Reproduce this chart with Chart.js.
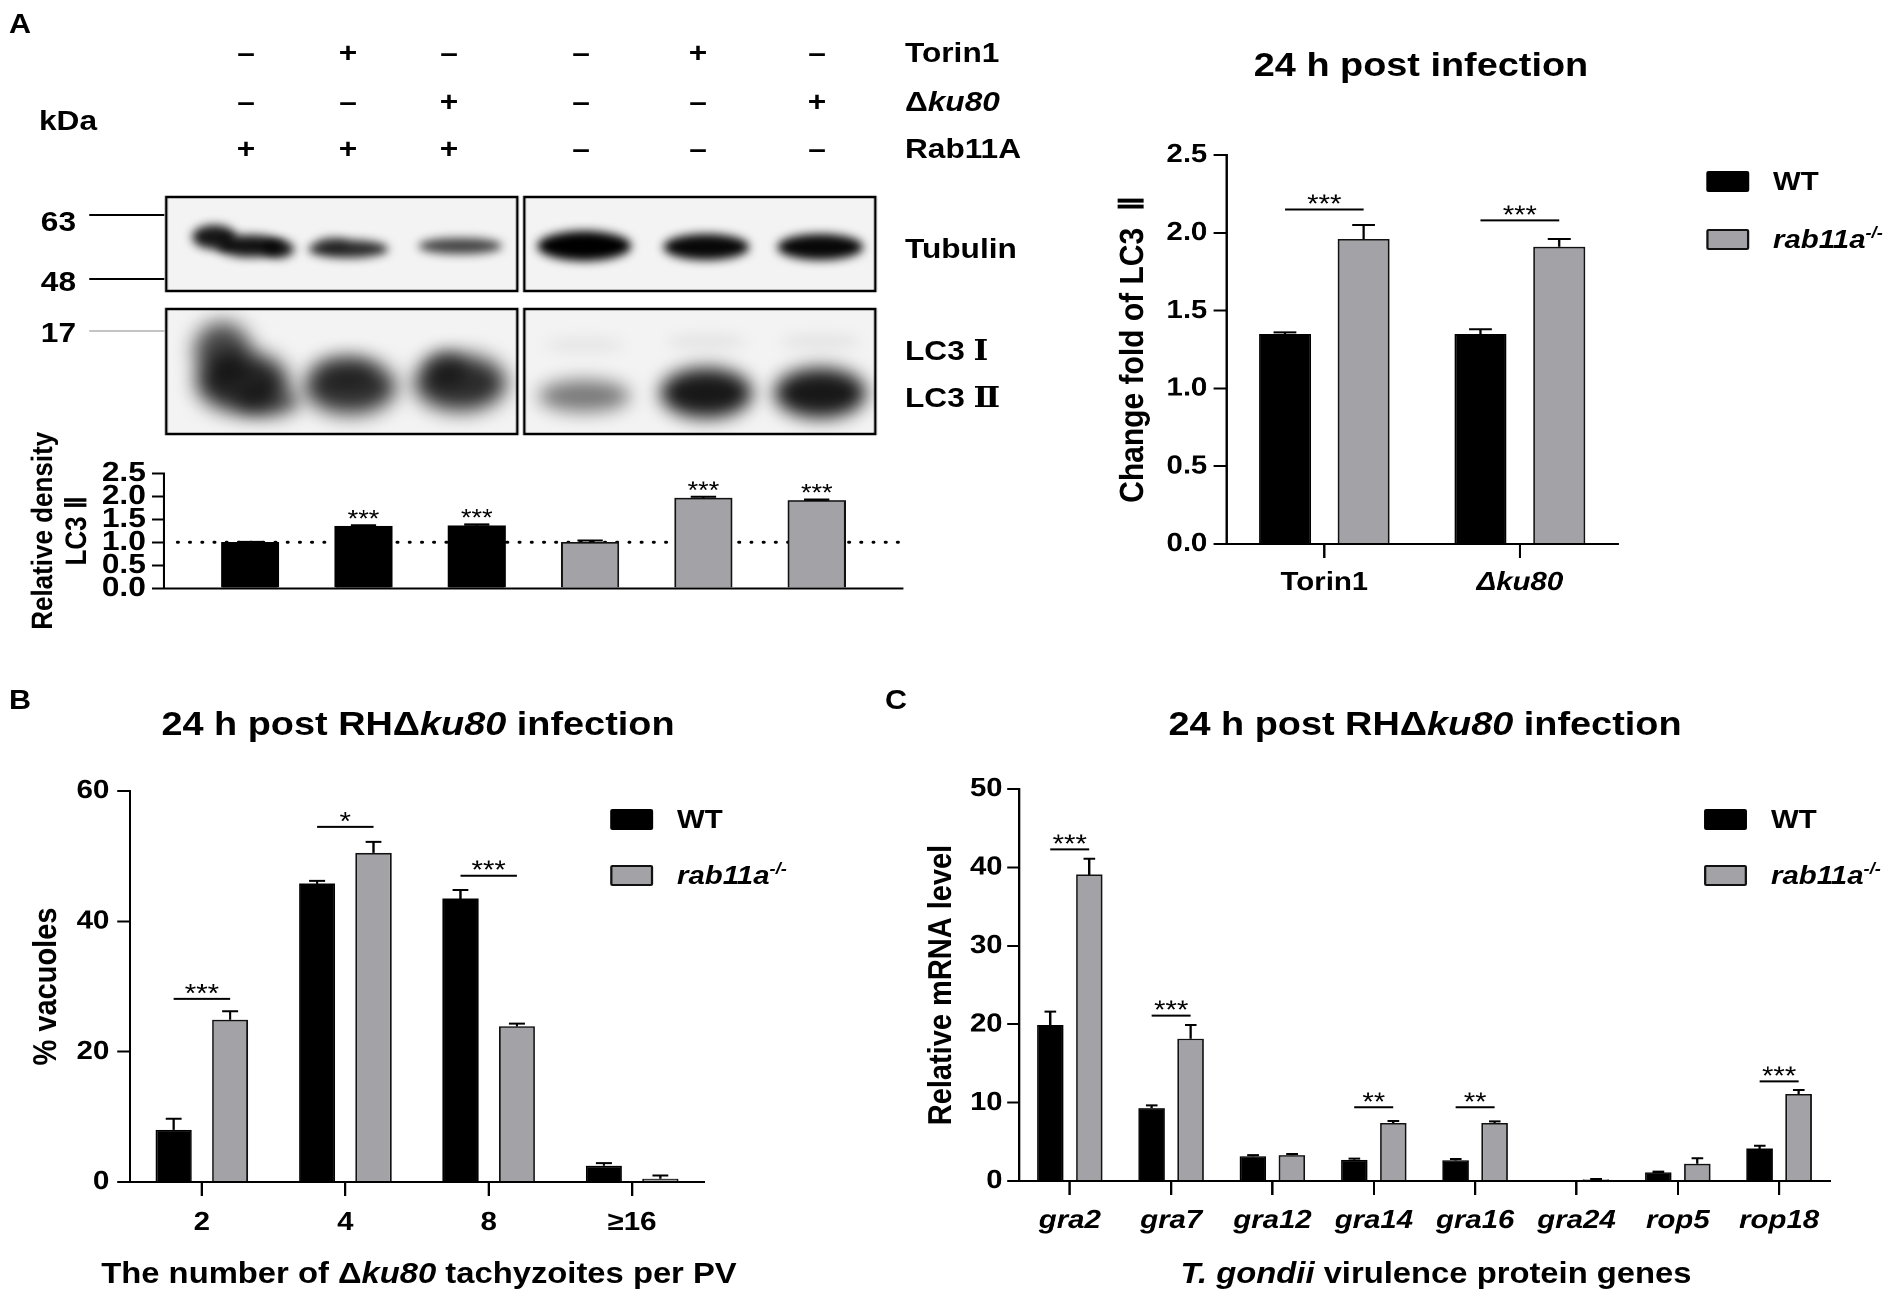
<!DOCTYPE html>
<html>
<head>
<meta charset="utf-8">
<script src="https://cdn.jsdelivr.net/npm/chart.js@4.4.1/dist/chart.umd.min.js"></script>
<style>
  html, body { margin: 0; padding: 0; background: #fff; }
  body { width: 1904px; height: 1296px; overflow: hidden; position: relative; }
  /* the figure is slightly wider than tall in its lettering, so the whole page is stretched */
  #page { position: absolute; left: 0; top: 0; width: 1685px; height: 1296px;
          transform-origin: 0 0; transform: scaleX(1.13);
          font-family: 'Liberation Sans', Arial, Helvetica, sans-serif; font-weight: bold; color: #000; }
  #page canvas { position: absolute; }
  .t { position: absolute; white-space: nowrap; line-height: 1; }
  .t sup { font-size: 62%; vertical-align: 0.6em; line-height: 0; }
  .rn { font-family: 'DejaVu Serif', 'Liberation Serif', serif; }
</style>
</head>
<body>
<div id="page"></div>
<script>
// ---- data ----

// panel A blot conditions (one entry per lane)
var laneNames = ['Rab11A+', 'Rab11A+ Torin1', 'Rab11A+ Δku80', 'Rab11A-', 'Rab11A- Torin1', 'Rab11A- Δku80'];
var laneGenotype = ['WT', 'WT', 'WT', 'KO', 'KO', 'KO'];
var torinRow = ['–', '+', '–', '–', '+', '–'];
var ku80Row = ['–', '–', '+', '–', '–', '+'];
var rab11aRow = ['+', '+', '+', '–', '–', '–'];

// panel A blot quantification
var densityValues = [1.00, 1.35, 1.36, 1.00, 1.96, 1.91];
var densityErrors = [0.01, 0.02, 0.03, 0.04, 0.03, 0.02];
var densityStars = ['', '***', '***', '', '***', '***'];
var densityTicks = [0, 0.5, 1.0, 1.5, 2.0, 2.5];

// panel A right
var treatments = ['Torin1', 'Δku80'];
var lc3WT = [1.35, 1.35];
var lc3WTErr = [0.01, 0.03];
var lc3KO = [1.96, 1.91];
var lc3KOErr = [0.09, 0.05];
var lc3Sig = ['***', '***'];
var lc3SigLevel = [2.15, 2.08];
var lc3Ticks = [0, 0.5, 1.0, 1.5, 2.0, 2.5];

// panel B
var parasiteCounts = ['2', '4', '8', '≥16'];
var vacuolesWT = [8.0, 45.8, 43.5, 2.5];
var vacuolesWTErr = [1.7, 0.4, 1.3, 0.4];
var vacuolesKO = [24.9, 50.5, 23.9, 0.5];
var vacuolesKOErr = [1.3, 1.7, 0.4, 0.5];
var vacuolesSig = ['***', '*', '***', ''];
var vacuolesSigLevel = [28.1, 54.5, 47.0, null];
var vacuolesTicks = [0, 20, 40, 60];

// panel C
var genes = ['gra2', 'gra7', 'gra12', 'gra14', 'gra16', 'gra24', 'rop5', 'rop18'];
var mrnaWT = [19.9, 9.3, 3.15, 2.7, 2.65, 0.05, 1.1, 4.15];
var mrnaWTErr = [1.7, 0.35, 0.15, 0.15, 0.15, 0, 0.1, 0.35];
var mrnaKO = [39.1, 18.15, 3.3, 7.4, 7.4, 0.2, 2.2, 11.1];
var mrnaKOErr = [2.0, 1.75, 0.15, 0.25, 0.2, 0.05, 0.7, 0.5];
var mrnaSig = ['***', '***', '', '**', '**', '', '', '***'];
var mrnaSigLevel = [42.3, 21.1, null, 9.4, 9.4, null, null, 12.7];
var mrnaTicks = [0, 10, 20, 30, 40, 50];

// ---- layout helpers (positions in picture pixels, x divided by the stretch) ----
var SX = 1.13;
var FONT = "'Liberation Sans', Arial, Helvetica, sans-serif";
var GRAY = '#a3a3a7';
var page = document.getElementById('page');

function addText(html, x, y, size, align, extra) {
  var d = document.createElement('div');
  d.className = 't';
  d.innerHTML = html;
  var tx = align === 'l' ? '0' : (align === 'r' ? '-100%' : '-50%');
  d.style.cssText = 'left:' + (x / SX) + 'px;top:' + y + 'px;font-size:' + size + 'px;transform:translate(' + tx + ',-50%);' + (extra || '');
  page.appendChild(d);
}

function addBox(x, y, w, h, fill, stroke) {
  var d = document.createElement('div');
  d.style.cssText = 'position:absolute;box-sizing:border-box;left:' + (x / SX) + 'px;top:' + y + 'px;width:' + (w / SX) +
    'px;height:' + h + 'px;background:' + fill + ';border:2px solid ' + stroke + ';border-radius:2px;';
  page.appendChild(d);
}

function addCanvas(L, T, R, B, raw) {
  var c = document.createElement('canvas');
  var w = (R - L) / SX, h = B - T;
  c.style.left = (L / SX) + 'px';
  c.style.top = T + 'px';
  c.style.width = w + 'px';
  c.style.height = h + 'px';
  c.width = raw ? (R - L) : Math.round(w);
  c.height = h;
  page.appendChild(c);
  return c;
}

function legend(x, y1, y2) {
  addBox(x, y1 - 10, 43, 21, '#000', '#000');
  addBox(x, y2 - 10, 43, 21, GRAY, '#111');
  addText('WT', x + 67, y1, 26, 'l');
  addText('<i>rab11a<sup>-/-</sup></i>', x + 67, y2, 26, 'l');
}

// ---- chart helpers ----
function yAxis(o) {
  return {
    min: o.ticks[0],
    max: o.ticks[o.ticks.length - 1],
    afterBuildTicks: function (s) { s.ticks = o.ticks.map(function (v) { return { value: v }; }); },
    afterFit: function (s) { s.width = o.width / SX; },
    border: { display: true, color: '#000', width: 2 },
    grid: { drawOnChartArea: false, drawTicks: true, tickLength: o.tickLen / SX, color: '#000', lineWidth: 2 },
    ticks: {
      autoSkip: false, color: '#000', padding: o.pad,
      font: { family: FONT, size: o.size || 26, weight: 'bold' },
      callback: function (v) { return o.decimals ? v.toFixed(o.decimals) : v; }
    },
    title: {
      display: true, text: o.title, color: '#000', padding: { top: o.titlePad, bottom: 0 },
      font: { family: FONT, size: o.titleSize, weight: 'bold', lineHeight: o.lineHeight || 1.2 }
    }
  };
}

function xAxis(o) {
  return {
    offset: true,
    afterFit: function (s) { s.height = o.height; },
    border: { display: true, color: '#000', width: 2 },
    grid: { offset: false, drawOnChartArea: false, drawTicks: true, tickLength: 14, color: '#000', lineWidth: 2 },
    ticks: { autoSkip: false, maxRotation: 0, color: '#000', padding: o.pad, font: o.font }
  };
}

// upward error bars with a short cap, as in the original graphs
var errorBars = {
  id: 'errorBars',
  afterDatasetsDraw: function (chart) {
    var ctx = chart.ctx, ys = chart.scales.y;
    ctx.save();
    ctx.strokeStyle = '#000';
    ctx.lineWidth = 2;
    chart.data.datasets.forEach(function (ds, di) {
      if (!ds.errors) return;
      chart.getDatasetMeta(di).data.forEach(function (bar, i) {
        var e = ds.errors[i];
        if (!e) return;
        var top = ys.getPixelForValue(ds.values[i] + e);
        var half = bar.width * 0.22;
        ctx.beginPath();
        ctx.moveTo(bar.x, bar.y);
        ctx.lineTo(bar.x, top);
        ctx.moveTo(bar.x - half, top);
        ctx.lineTo(bar.x + half, top);
        ctx.stroke();
      });
    });
    ctx.restore();
  }
};

// significance bracket between the two bars of a group
function sigMarks(marks, levels) {
  return {
    id: 'sigMarks',
    afterDatasetsDraw: function (chart) {
      var ctx = chart.ctx, ys = chart.scales.y;
      var a = chart.getDatasetMeta(0).data, b = chart.getDatasetMeta(1).data;
      ctx.save();
      ctx.strokeStyle = '#000';
      ctx.fillStyle = '#000';
      ctx.lineWidth = 2;
      ctx.font = '26px ' + FONT;
      ctx.textAlign = 'center';
      ctx.textBaseline = 'alphabetic';
      marks.forEach(function (m, i) {
        if (!m) return;
        var py = ys.getPixelForValue(levels[i]);
        ctx.beginPath();
        ctx.moveTo(a[i].x, py);
        ctx.lineTo(b[i].x, py);
        ctx.stroke();
        ctx.fillText(m, (a[i].x + b[i].x) / 2, py + 3);
      });
      ctx.restore();
    }
  };
}

function baseOptions(pt, pr, scales) {
  return {
    responsive: false,
    animation: false,
    devicePixelRatio: 2,
    events: [],
    layout: { padding: { top: pt, right: pr / SX, left: 0, bottom: 0 } },
    plugins: { legend: { display: false }, tooltip: { enabled: false } },
    scales: scales
  };
}

function groupedData(labels, wt, wtErr, ko, koErr, catPct, barPct) {
  return {
    labels: labels,
    datasets: [
      { label: 'WT', data: wt, values: wt, errors: wtErr, backgroundColor: '#000', borderColor: '#000',
        borderWidth: 1.5, categoryPercentage: catPct, barPercentage: barPct },
      { label: 'rab11a-/-', data: ko, values: ko, errors: koErr, backgroundColor: GRAY, borderColor: '#111',
        borderWidth: 1.6, categoryPercentage: catPct, barPercentage: barPct }
    ]
  };
}

// ---- panel A: blot picture ----
function drawBlot() {
  var ox = 80, oy = 190;
  var cv = addCanvas(80, 190, 880, 440, true);
  var ctx = cv.getContext('2d');
  var boxes = [[166, 197, 517, 291], [524, 197, 875, 291], [166, 309, 517, 434], [524, 309, 875, 434]];
  var bands = [
    [214, 237, 22, 12, 0.9, 5], [250, 246, 34, 11, 0.92, 5], [278, 249, 16, 9, 0.85, 5],
    [348, 249, 40, 9, 0.82, 5], [332, 244, 16, 7, 0.4, 5],
    [460, 246, 42, 8, 0.72, 5],
    [584, 246, 47, 15, 1, 5], [706, 247, 43, 13, 0.97, 5], [820, 247, 43, 13, 0.97, 5],
    [222, 350, 28, 28, 0.7, 10], [242, 382, 46, 30, 0.85, 10], [268, 402, 32, 14, 0.6, 9],
    [350, 387, 46, 27, 0.8, 10], [345, 372, 32, 15, 0.4, 9],
    [460, 383, 46, 28, 0.82, 10], [445, 368, 20, 16, 0.5, 8],
    [584, 396, 46, 16, 0.5, 9], [706, 393, 46, 25, 0.9, 9], [820, 393, 46, 25, 0.9, 9],
    [584, 345, 40, 8, 0.05, 7], [706, 342, 40, 8, 0.06, 7], [820, 342, 40, 8, 0.06, 7]
  ];
  boxes.forEach(function (b) {
    ctx.fillStyle = '#f3f3f3';
    ctx.fillRect(b[0] - ox, b[1] - oy, b[2] - b[0], b[3] - b[1]);
  });
  boxes.forEach(function (b) {
    ctx.save();
    ctx.beginPath();
    ctx.rect(b[0] - ox, b[1] - oy, b[2] - b[0], b[3] - b[1]);
    ctx.clip();
    bands.forEach(function (d) {
      ctx.filter = 'blur(' + d[5] + 'px)';
      ctx.fillStyle = 'rgba(0,0,0,' + d[4] + ')';
      ctx.beginPath();
      ctx.ellipse(d[0] - ox, d[1] - oy, d[2], d[3], 0, 0, Math.PI * 2);
      ctx.fill();
    });
    ctx.restore();
  });
  ctx.strokeStyle = '#000';
  ctx.lineWidth = 2.5;
  boxes.forEach(function (b) {
    ctx.strokeRect(b[0] - ox, b[1] - oy, b[2] - b[0], b[3] - b[1]);
  });
  // molecular weight marker lines
  ctx.lineWidth = 2;
  ctx.beginPath();
  ctx.moveTo(89 - ox, 215 - oy); ctx.lineTo(164 - ox, 215 - oy);
  ctx.moveTo(89 - ox, 279 - oy); ctx.lineTo(164 - ox, 279 - oy);
  ctx.stroke();
  ctx.strokeStyle = '#888';
  ctx.lineWidth = 1;
  ctx.beginPath();
  ctx.moveTo(89 - ox, 331 - oy); ctx.lineTo(164 - ox, 331 - oy);
  ctx.stroke();
}
drawBlot();

var laneX = [246, 348, 449, 581, 698, 817];
[[torinRow, 53], [ku80Row, 102], [rab11aRow, 149]].forEach(function (r) {
  r[0].forEach(function (s, i) { addText(s, laneX[i], r[1], 28, 'c'); });
});
addText('Torin1', 905, 53, 28, 'l');
addText('Δ<i>ku80</i>', 905, 102, 28, 'l');
addText('Rab11A', 905, 149, 28, 'l');
addText('Tubulin', 905, 249, 28, 'l');
addText('LC3 <span class="rn">Ⅰ</span>', 905, 351, 28, 'l');
addText('LC3 <span class="rn">Ⅱ</span>', 905, 398, 28, 'l');
addText('kDa', 68, 121, 28, 'c');
addText('63', 76, 222, 28, 'r');
addText('48', 76, 282, 28, 'r');
addText('17', 76, 333, 28, 'r');
addText('A', 20, 24, 27, 'c');
addText('B', 20, 700, 27, 'c');
addText('C', 896, 700, 27, 'c');

// ---- panel A: density bars under the blot ----
var densityChart = new Chart(addCanvas(0, 415, 920, 640), {
  type: 'bar',
  data: {
    datasets: [{
      label: 'Relative density',
      data: laneNames.map(function (n, i) { return { x: i + 1, y: densityValues[i] }; }),
      values: densityValues,
      errors: densityErrors,
      backgroundColor: laneGenotype.map(function (g) { return g === 'WT' ? '#000' : GRAY; }),
      borderColor: laneGenotype.map(function (g) { return g === 'WT' ? '#000' : '#111'; }),
      borderWidth: 1.6,
      barThickness: 57.5 / SX
    }]
  },
  options: baseOptions(58.3, 17, {
    x: {
      type: 'linear', min: 0.24, max: 6.76, offset: false,
      afterFit: function (s) { s.height = 51.7; },
      ticks: { display: false },
      grid: { display: false },
      border: { display: true, color: '#000', width: 2 }
    },
    y: yAxis({ ticks: densityTicks, decimals: 1, width: 164, tickLen: 12, pad: 5.5, size: 28,
               title: ['Relative density', 'LC3 Ⅱ'], titleSize: 26, titlePad: 24, lineHeight: 1.154 })
  }),
  plugins: [{
    id: 'refLine',
    beforeDatasetsDraw: function (chart) {
      var ctx = chart.ctx, a = chart.chartArea, py = chart.scales.y.getPixelForValue(1);
      ctx.save();
      ctx.strokeStyle = '#000';
      ctx.lineWidth = 3;
      ctx.lineCap = 'round';
      ctx.setLineDash([0.5, 10.3]);
      ctx.beginPath();
      ctx.moveTo(a.left + 12, py);
      ctx.lineTo(a.right, py);
      ctx.stroke();
      ctx.restore();
    }
  }, errorBars, {
    id: 'laneStars',
    afterDatasetsDraw: function (chart) {
      var ctx = chart.ctx, ys = chart.scales.y, bars = chart.getDatasetMeta(0).data;
      ctx.save();
      ctx.fillStyle = '#000';
      ctx.font = '24px ' + FONT;
      ctx.textAlign = 'center';
      densityStars.forEach(function (s, i) {
        if (s) ctx.fillText(s, bars[i].x, ys.getPixelForValue(densityValues[i] + densityErrors[i]) + 1);
      });
      ctx.restore();
    }
  }]
});

// ---- panel A: right graph ----
addText('24 h post infection', 1421, 65, 33.5, 'c');
legend(1706, 181, 239);
var lc3Chart = new Chart(addCanvas(1100, 120, 1640, 610), {
  type: 'bar',
  data: groupedData(treatments, lc3WT, lc3WTErr, lc3KO, lc3KOErr, 0.805, 0.66),
  options: baseOptions(35, 22, {
    x: xAxis({ height: 66, pad: 9, font: function (c) {
      return { family: FONT, size: 26, weight: 'bold', style: c.index === 1 ? 'italic' : 'normal' };
    } }),
    y: yAxis({ ticks: lc3Ticks, decimals: 1, width: 127, tickLen: 13, pad: 5.5,
               title: 'Change fold of LC3  Ⅱ', titleSize: 30, titlePad: 12 })
  }),
  plugins: [errorBars, sigMarks(lc3Sig, lc3SigLevel)]
});

// ---- panel B ----
addText('24 h post RHΔ<i>ku80</i> infection', 418, 724, 33.5, 'c');
addText('The number of Δ<i>ku80</i> tachyzoites per PV', 419, 1273, 29, 'c');
legend(610, 819, 875);
var vacuoleChart = new Chart(addCanvas(10, 760, 720, 1250), {
  type: 'bar',
  data: groupedData(parasiteCounts, vacuolesWT, vacuolesWTErr, vacuolesKO, vacuolesKOErr, 0.787, 0.64),
  options: baseOptions(31, 16, {
    x: xAxis({ height: 68, pad: 11, font: { family: FONT, size: 26, weight: 'bold' } }),
    y: yAxis({ ticks: vacuolesTicks, decimals: 0, width: 120, tickLen: 13, pad: 7,
               title: '% vacuoles', titleSize: 29, titlePad: 15 })
  }),
  plugins: [errorBars, sigMarks(vacuolesSig, vacuolesSigLevel)]
});

// ---- panel C ----
addText('24 h post RHΔ<i>ku80</i> infection', 1425, 724, 33.5, 'c');
addText('<i>T. gondii</i> virulence protein genes', 1436, 1273, 29, 'c');
legend(1704, 819, 875);
var mrnaChart = new Chart(addCanvas(905, 760, 1850, 1250), {
  type: 'bar',
  data: groupedData(genes, mrnaWT, mrnaWTErr, mrnaKO, mrnaKOErr, 0.77, 0.68),
  options: baseOptions(29, 20, {
    x: xAxis({ height: 69, pad: 10, font: { family: FONT, size: 26, weight: 'bold', style: 'italic' } }),
    y: yAxis({ ticks: mrnaTicks, decimals: 0, width: 114, tickLen: 12, pad: 4,
               title: 'Relative mRNA level', titleSize: 29, titlePad: 15 })
  }),
  plugins: [errorBars, sigMarks(mrnaSig, mrnaSigLevel)]
});
</script>
</body>
</html>
